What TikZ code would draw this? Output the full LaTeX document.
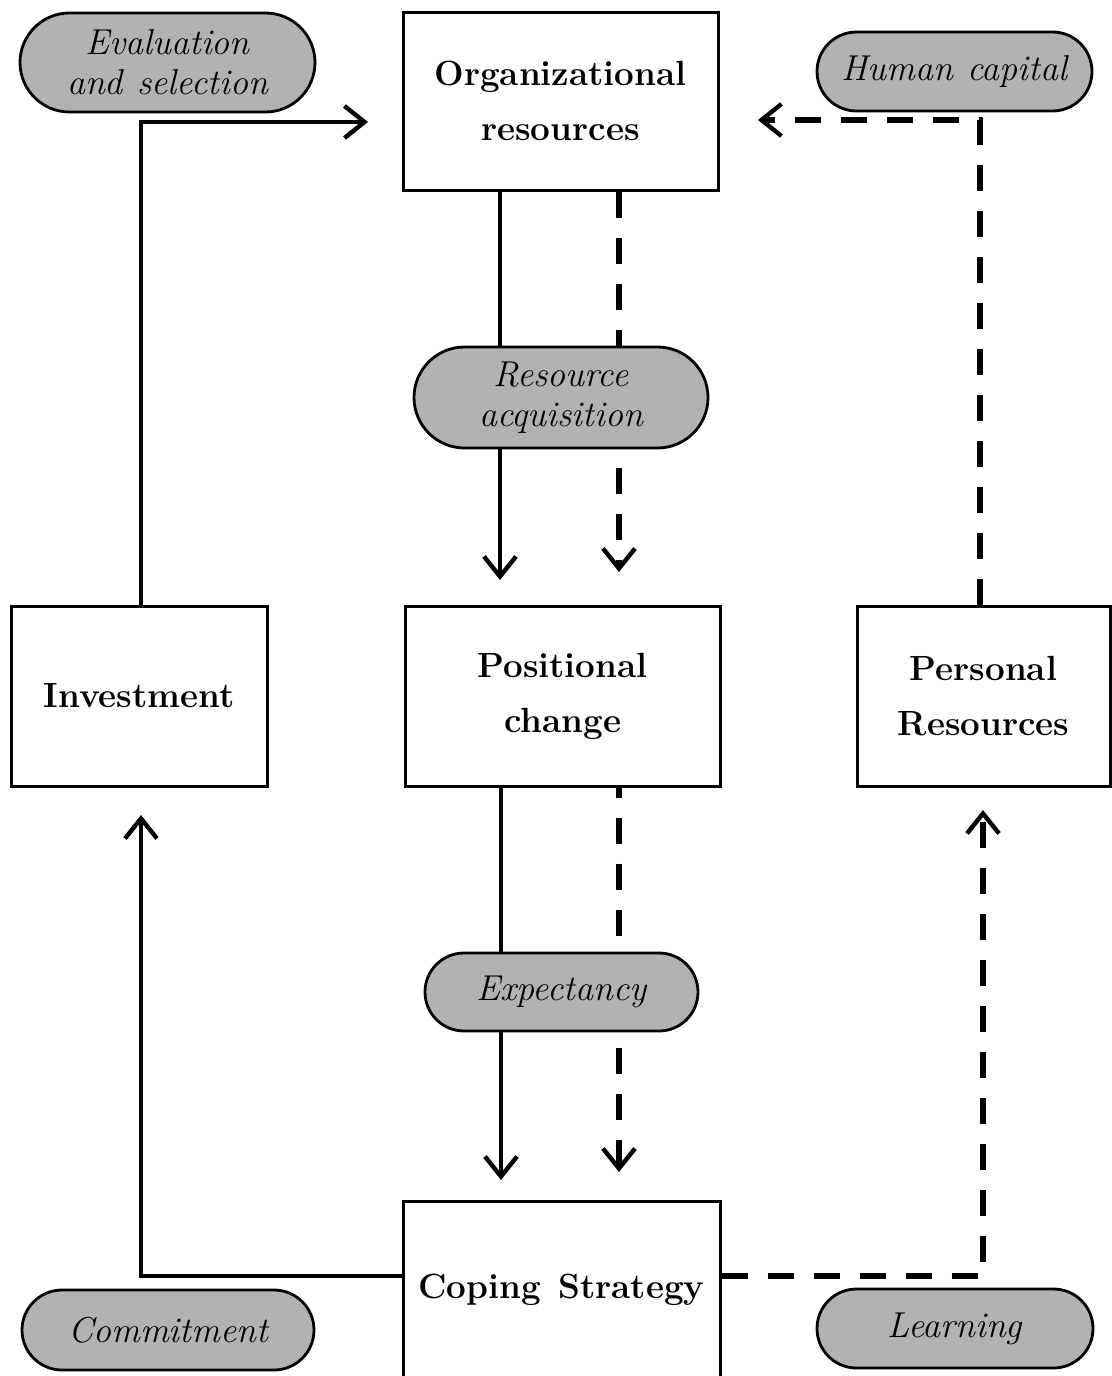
\documentclass[tikz,border=0pt]{standalone}
\usetikzlibrary{arrows.meta,shapes.misc,calc}
\newcommand\bxfont{\fontsize{17.5}{27.5}\selectfont\bfseries}
\newcommand\pillfont{\fontsize{18}{20}\selectfont\itshape}
\begin{document}
\begin{tikzpicture}[x=0.5pt,y=-0.5pt,
  box/.style={draw,line width=1.5pt,rectangle,align=center,font=\bxfont,inner sep=0pt},
  pill/.style={draw,line width=1.4pt,rounded rectangle,fill=black!30,align=center,font=\pillfont,inner sep=0pt},
  solidline/.style={line width=2.2pt,line join=miter,-{Straight Barb[length=10pt,width=16pt,line width=2.2pt]}},
  dashline/.style={line width=2.8pt,line join=miter,dash pattern=on 13pt off 10pt,-{Straight Barb[length=10pt,width=16pt,line width=2.2pt]}}]
\useasboundingbox (0,0) rectangle (1112,1376);
% boxes
\node[box,minimum width=157.5pt,minimum height=89pt] (org) at (560.5,101) {Organizational\\resources};
\node[box,minimum width=157.5pt,minimum height=90pt] (pos) at (562.5,696) {Positional\\change};
\node[box,minimum width=128pt,minimum height=90pt] (inv) at (139,696) {Investment};
\node[box,minimum width=126.5pt,minimum height=90pt] (pers) at (983.5,696) {Personal\\Resources};
\node[box,minimum width=158.5pt,minimum height=89pt] (cope) at (561.5,1290) {Coping\hspace{0.5em}Strategy};
% coordinates
\coordinate (e1) at (141,122); \coordinate (e2) at (368,122);
\coordinate (h1) at (980,120); \coordinate (h2) at (758,120);
\coordinate (r1) at (500,580); \coordinate (r2) at (619,572);
\coordinate (x1) at (501,1180); \coordinate (x2) at (619,1172);
\coordinate (c1) at (141,1276); \coordinate (c2) at (141,815);
\coordinate (l1) at (983,1276); \coordinate (l2) at (983,810);
% connectors
\draw[solidline] (inv.north -| e1) -- (e1) -- (e2);
\draw[dashline] (pers.north -| h1) -- (h1) -- (h2);
\draw[solidline] (org.south -| r1) -- (r1);
\draw[dashline] (org.south -| r2) -- (r2);
\draw[solidline] (pos.south -| x1) -- (x1);
\draw[dashline,dash phase=8pt] (pos.south -| x2) -- (x2);
\draw[solidline] (cope.west |- c1) -- (c1) -- (c2);
\draw[dashline] (cope.east |- l1) -- (l1) -- (l2);
% pills
\node[pill,minimum width=147.5pt,minimum height=49.5pt] (eval) at (167.5,62.5) {Evaluation\\and\hspace{0.4em}selection};
\node[pill,minimum width=137.5pt,minimum height=39.5pt] (hc) at (954.5,71.5) {Human\hspace{0.4em}capital};
\node[pill,minimum width=147pt,minimum height=50.5pt] (ra) at (561,397.5) {Resource\\acquisition};
\node[pill,minimum width=136.5pt,minimum height=39pt] (exp) at (561.5,992) {Expectancy};
\node[pill,minimum width=146pt,minimum height=40pt] (com) at (168,1330) {Commitment};
\node[pill,minimum width=138pt,minimum height=39.5pt] (lrn) at (955,1328.5) {Learning};
\end{tikzpicture}
\end{document}
